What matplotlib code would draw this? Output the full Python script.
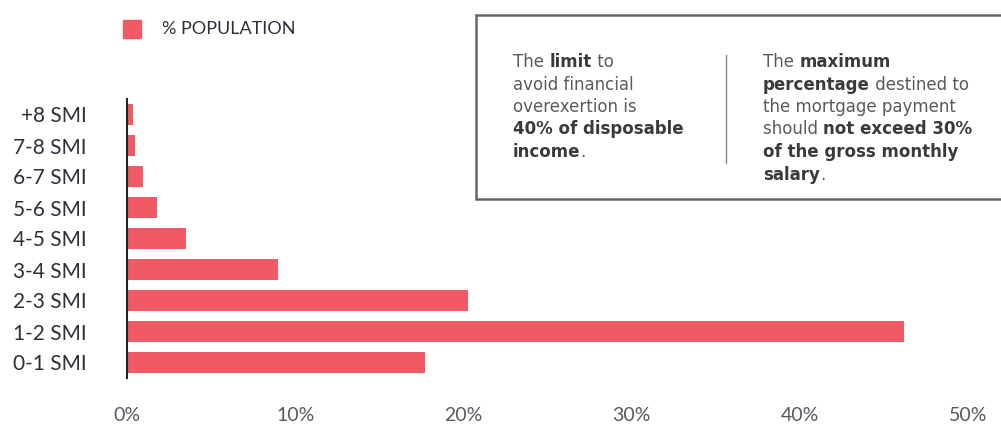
import matplotlib
matplotlib.use("Agg")
import matplotlib.pyplot as plt
from matplotlib.patches import Rectangle
from matplotlib.lines import Line2D
from matplotlib.text import Annotation

plt.rcParams['font.family'] = ['Lato', 'DejaVu Sans']

categories = ["0-1 SMI", "1-2 SMI", "2-3 SMI", "3-4 SMI", "4-5 SMI",
              "5-6 SMI", "6-7 SMI", "7-8 SMI", "+8 SMI"]
population_pct = [17.7, 46.2, 20.3, 9.0, 3.5, 1.8, 0.95, 0.48, 0.36]
x_ticks = [0, 10, 20, 30, 40, 50]
x_tick_labels = ["0%", "10%", "20%", "30%", "40%", "50%"]
series_name = "% POPULATION"

left_note = [[("The ", False), ("limit", True), (" to", False)],
             [("avoid financial", False)],
             [("overexertion is", False)],
             [("40% of disposable", True)],
             [("income", True), (".", False)]]
right_note = [[("The ", False), ("maximum", True)],
              [("percentage", True), (" destined to", False)],
              [("the mortgage payment", False)],
              [("should ", False), ("not exceed 30%", True)],
              [("of the gross monthly", True)],
              [("salary", True), (".", False)]]

BAR = "#EF5A65"
W, H = 1001, 426
fig = plt.figure(figsize=(W / 100, H / 100), dpi=100)
ax = fig.add_axes([127 / W, 1 - 378 / H, (968 - 127) / W, (378 - 99) / H])

ypos = list(range(len(categories)))
ax.barh(ypos, population_pct, height=0.7, color=BAR, zorder=2)
ax.set_xlim(0, 50)
ax.set_ylim(-0.5, len(categories) - 0.5)
ax.set_yticks(ypos)
ax.set_yticklabels(categories, fontsize=15, color="#2d3038")
ax.set_xticks(x_ticks)
ax.set_xticklabels(x_tick_labels, fontsize=14, color="#555a60")
ax.tick_params(axis="both", length=0)
ax.tick_params(axis="x", pad=21)
ax.tick_params(axis="y", pad=29)
for s in ["top", "right", "bottom"]:
    ax.spines[s].set_visible(False)
ax.spines["left"].set_color("#222222")
ax.spines["left"].set_linewidth(1.5)
ax.spines["left"].set_zorder(3)

# legend
fig.patches.append(Rectangle((123 / W, 1 - 38 / H), 18 / W, 18 / H,
                             transform=fig.transFigure, color=BAR))
fig.text(162 / W, 1 - 29 / H, series_name, fontsize=13, color="#2d3038",
         va="center", ha="left")

# note box
fig.patches.append(Rectangle((476 / W, 1 - 199 / H), 540 / W, 184 / H,
                             transform=fig.transFigure, facecolor="white",
                             edgecolor="#666666", linewidth=1.8))
fig.lines.append(Line2D([726 / W, 726 / W], [1 - 55 / H, 1 - 163 / H],
                        transform=fig.transFigure, color="#888888", linewidth=1))


def draw_note(lines, x0, y_top, step):
    for i, line in enumerate(lines):
        y = 1 - (y_top + i * step) / H
        prev = None
        for seg, bold in line:
            kw = dict(fontsize=12, family="DejaVu Sans",
                      color="#3a3a3a" if bold else "#5a5a5a",
                      fontweight="bold" if bold else "normal")
            if prev is None:
                prev = fig.text(x0 / W, y, seg, ha="left", va="center", **kw)
            else:
                a = Annotation(seg, xy=(1, 0.5), xycoords=prev,
                               ha="left", va="center", **kw)
                fig.add_artist(a)
                prev = a


draw_note(left_note, 513, 62, 22.5)
draw_note(right_note, 763, 62, 22.5)

fig.savefig("out.png", dpi=100)
